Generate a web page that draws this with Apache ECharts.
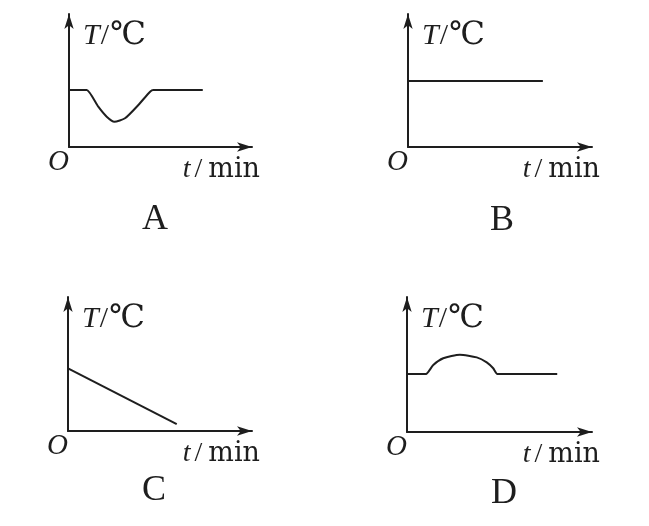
<!DOCTYPE html>
<html>
<head>
<meta charset="utf-8">
<script src="https://cdn.jsdelivr.net/npm/echarts@6/dist/echarts.min.js"></script>
<style>html,body{margin:0;padding:0;background:#fff;}#c{width:649px;height:526px;}</style>
</head>
<body>
<div id="c"></div>
<script>
// Panel labels
const panelLabels = ['A', 'B', 'C', 'D'];
// Axis names (rich-text markup: italic variable, upright unit)
const yAxisName = '{i|T}{s|/}{c|℃}';
const xAxisName = '{i|t}{s|/}{m|min}';
const originLabel = 'O';
// Curves (t in arbitrary units 0-10, T in arbitrary units 0-10)
const curveA = [[0, 4.29], [0.7, 4.29], [0.97, 4.29], [1.6, 3.03], [2.06, 2.28], [2.48, 1.9], [3.06, 2.16], [3.79, 3.16], [4.43, 4.16], [4.61, 4.29], [5.0, 4.29], [7.31, 4.29]];
const curveB = [[0, 4.96], [7.33, 4.96]];
const curveC = [[0, 4.67], [5.91, 0.52]];
const curveD = [[0, 4.3], [0.8, 4.3], [1.03, 4.3], [1.42, 4.96], [1.96, 5.46], [2.86, 5.73], [3.77, 5.53], [4.31, 5.16], [4.66, 4.72], [4.88, 4.3], [5.2, 4.3], [8.12, 4.3]];

const curves = [curveA, curveB, curveC, curveD];
const grids = [
  {left: 69, top: 14, width: 183, height: 133},
  {left: 408, top: 14, width: 184, height: 133},
  {left: 68, top: 297, width: 184, height: 134},
  {left: 407, top: 297, width: 185, height: 135}
];
const titlePos = [[155, 220], [503, 221], [155, 491], [504, 494]];
const serif = 'Liberation Serif';
const ink = '#1e1e1e';

const option = {
  backgroundColor: '#fff',
  animation: false,
  title: panelLabels.map((t, i) => ({
    text: t, left: titlePos[i][0] - 13, top: titlePos[i][1] - 18, padding: 0,
    textStyle: {fontFamily: serif, fontWeight: 'normal', fontSize: 36, color: ink}
  })),
  grid: grids,
  xAxis: grids.map((g, i) => ({
    type: 'value', gridIndex: i, min: 0, max: 10,
    splitLine: {show: false}, axisTick: {show: false},
    axisLine: {show: true, onZero: false, lineStyle: {color: ink, width: 2}, symbol: ['none', 'arrow'], symbolSize: [7, 15]},
    axisLabel: {
      show: true, showMinLabel: true, showMaxLabel: false, margin: 1, align: 'right',
      formatter: v => v === 0 ? originLabel : '',
      fontFamily: serif, fontStyle: 'italic', fontSize: 29, color: ink
    },
    name: xAxisName, nameLocation: 'end', nameGap: 8,
    nameTextStyle: {color: ink, align: 'right', verticalAlign: 'top', padding: [9, 0, 0, 0],
      rich: {
        i: {fontFamily: serif, fontStyle: 'italic', fontSize: 28, color: ink},
        s: {fontFamily: serif, fontSize: 28, color: ink, padding: [0, 6, 0, 4]},
        m: {fontFamily: 'DejaVu Serif', fontSize: 27, color: ink}
      }}
  })),
  yAxis: grids.map((g, i) => ({
    type: 'value', gridIndex: i, min: 0, max: 10,
    splitLine: {show: false}, axisTick: {show: false}, axisLabel: {show: false},
    axisLine: {show: true, onZero: false, lineStyle: {color: ink, width: 2}, symbol: ['none', 'arrow'], symbolSize: [7, 15]},
    name: yAxisName, nameLocation: 'end', nameGap: -6,
    nameTextStyle: {color: ink, align: 'left', verticalAlign: 'top', padding: [0, 0, 0, 14],
      rich: {
        i: {fontFamily: serif, fontStyle: 'italic', fontSize: 30, color: ink},
        s: {fontFamily: serif, fontSize: 30, color: ink, padding: [0, 1, 0, 1]},
        c: {fontFamily: "'DejaVu Serif', 'Noto Sans CJK SC'", fontSize: 32, color: ink}
      }}
  })),
  series: curves.map((c, i) => ({
    type: 'line', xAxisIndex: i, yAxisIndex: i, data: c,
    smooth: (i === 0 || i === 3) ? 0.2 : false,
    showSymbol: false, symbol: 'none',
    lineStyle: {color: ink, width: 2}
  }))
};
const chart = echarts.init(document.getElementById('c'), null, {renderer: 'canvas'});
chart.setOption(option);
</script>
</body>
</html>
